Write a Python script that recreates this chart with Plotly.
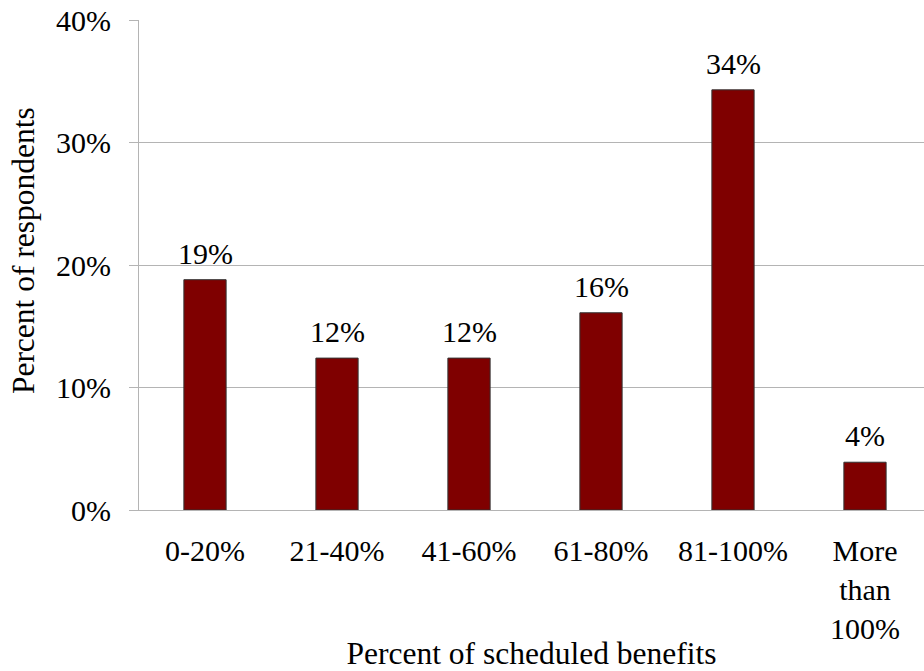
import plotly.graph_objects as go

categories = ["0-20%", "21-40%", "41-60%", "61-80%", "81-100%", "More<br>than<br>100%"]
values = [18.8, 12.4, 12.4, 16.1, 34.3, 3.9]
labels = ["19%", "12%", "12%", "16%", "34%", "4%"]
ytick_vals = [0, 10, 20, 30, 40]
ytick_text = ["0%", "10%", "20%", "30%", "40%"]

FONT = "Liberation Serif, Times New Roman, serif"
GRID = "#b4b4b4"

fig = go.Figure(
    go.Bar(
        x=list(range(len(categories))),
        y=values,
        marker=dict(color="#7f0000", line=dict(color="#333333", width=1)),
        width=0.32,
        hoverinfo="skip",
    )
)

for i, (v, t) in enumerate(zip(values, labels)):
    fig.add_annotation(
        x=i, y=v, text=t, showarrow=False, xref="x", yref="y",
        yanchor="bottom", yshift=8,
        font=dict(family=FONT, size=30, color="black"),
    )

fig.add_annotation(
    x=-0.148, y=0.53, xref="paper", yref="paper",
    text="Percent of respondents", textangle=-90, showarrow=False,
    xanchor="center", yanchor="middle",
    font=dict(family=FONT, size=31.5, color="black"),
)

fig.update_layout(
    width=924,
    height=671,
    margin=dict(l=139, r=0, t=20, b=161),
    paper_bgcolor="white",
    plot_bgcolor="white",
    font=dict(family=FONT, size=30, color="black"),
    showlegend=False,
)

fig.update_xaxes(
    range=[-0.5, 5.447],
    tickmode="array",
    tickvals=list(range(len(categories))),
    ticktext=categories,
    showgrid=False,
    showline=True,
    linecolor=GRID,
    linewidth=1,
    ticks="",
    ticklabelstandoff=14,
    tickfont=dict(family=FONT, size=30),
    title=dict(text="Percent of scheduled benefits", font=dict(family=FONT, size=31.5), standoff=4),
    zeroline=False,
)

fig.update_yaxes(
    range=[0, 40],
    tickmode="array",
    tickvals=ytick_vals,
    ticktext=ytick_text,
    showgrid=True,
    gridcolor=GRID,
    gridwidth=1,
    showline=True,
    linecolor=GRID,
    linewidth=1,
    ticks="outside",
    ticklen=9,
    tickcolor=GRID,
    ticklabelstandoff=12,
    tickfont=dict(family=FONT, size=30),
    zeroline=False,
)

fig.write_html("out.html")
